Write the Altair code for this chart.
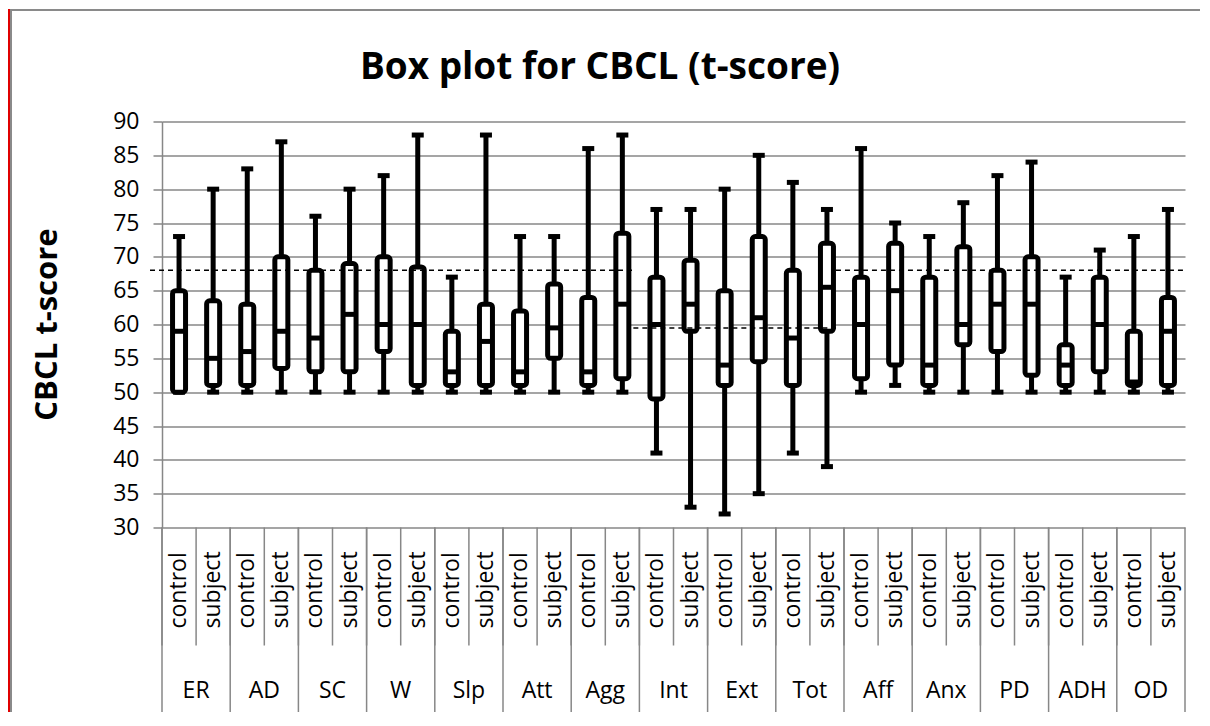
import altair as alt
import pandas as pd

scales = ["ER", "AD", "SC", "W", "Slp", "Att", "Agg", "Int", "Ext", "Tot", "Aff", "Anx", "PD", "ADH", "OD"]
groups = ["control", "subject"]

# order: ER-control, ER-subject, AD-control, ...
mins = [50, 50, 50, 50, 50, 50, 50, 50, 50, 50, 50, 50, 50, 50, 41, 33, 32, 35, 41, 39, 50, 51, 50, 50, 50, 50, 50, 50, 50, 50]
q1s = [50, 51, 51, 53.5, 53, 53, 56, 51, 51, 51, 51, 55, 51, 52, 49, 59, 51, 54.5, 51, 59, 52, 54, 51, 57, 56, 52.5, 51, 53, 51, 51]
meds = [59, 55, 56, 59, 58, 61.5, 60, 60, 53, 57.5, 53, 59.5, 53, 63, 60, 63, 54, 61, 58, 65.5, 60, 65, 54, 60, 63, 63, 54, 60, 51.5, 59]
q3s = [65, 63.5, 63, 70, 68, 69, 70, 68.5, 59, 63, 62, 66, 64, 73.5, 67, 69.5, 65, 73, 68, 72, 67, 72, 67, 71.5, 68, 70, 57, 67, 59, 64]
maxs = [73, 80, 83, 87, 76, 80, 82, 88, 67, 88, 73, 73, 86, 88, 77, 77, 80, 85, 81, 77, 86, 75, 73, 78, 82, 84, 67, 71, 73, 77]

ref_hi = 68
ref_lo = 59.5
y_ticks = list(range(30, 95, 5))

keys = [f"{s}|{g}" for s in scales for g in groups]
df = pd.DataFrame({
    "key": keys,
    "scale": [s for s in scales for g in groups],
    "group": [g for s in scales for g in groups],
    "min": mins, "q1": q1s, "med": meds, "q3": q3s, "max": maxs,
})

W, H = 1023, 406
band = W / len(keys)
GRID = "#878787"
FONT = "Open Sans"
LW = 5

xenc = alt.X("key:N", sort=keys, scale=alt.Scale(paddingInner=0, paddingOuter=0), axis=None)
yscale = alt.Scale(domain=[30, 90], nice=False, zero=False)
yaxis = alt.Axis(values=y_ticks, title=None, grid=True, gridColor=GRID, gridWidth=1.5,
                 domainColor=GRID, domainWidth=1.5, tickColor=GRID, tickWidth=1.5, tickSize=9,
                 labelFontSize=23, labelFont=FONT, labelColor="black", labelPadding=14)

def Y(field):
    return alt.Y(f"{field}:Q", scale=yscale, axis=yaxis)

def XB(pos):
    return alt.X("key:N", sort=keys, bandPosition=pos,
                 scale=alt.Scale(paddingInner=0, paddingOuter=0), axis=None)

base = alt.Chart(df)
whisk = base.mark_rule(color="black", strokeWidth=LW).encode(x=xenc, y=Y("min"), y2="max:Q")
cap_lo = base.mark_tick(color="black", thickness=LW, size=12, opacity=1).encode(x=xenc, y=Y("min"))
cap_hi = base.mark_tick(color="black", thickness=LW, size=12, opacity=1).encode(x=xenc, y=Y("max"))
box = base.mark_bar(size=13, fill="white", stroke="black", strokeWidth=LW, cornerRadius=3).encode(
    x=xenc, y=Y("q1"), y2="q3:Q")
med = base.mark_tick(color="black", thickness=LW, size=14, opacity=1).encode(x=xenc, y=Y("med"))

# reference dashed lines
ref_df = pd.DataFrame({
    "y": [ref_hi, ref_lo, ref_hi],
    "x0": [-12, 13.5 * band + 11, 19.5 * band + 9],
    "x1": [13.5 * band + 11, 19.5 * band + 9, W],
})
refs = alt.Chart(ref_df).mark_rule(color="black", strokeWidth=1.5, strokeDash=[5, 4]).encode(
    y=Y("y"), x=alt.X("x0:Q", scale=None), x2="x1:Q")

# category axis: separators and labels
sep_small = alt.Chart(df).mark_rule(color=GRID, strokeWidth=1.5).encode(
    x=XB(0), y=alt.value(H), y2=alt.value(H + 118))
gdf = df[df["group"] == "control"]
sep_big = alt.Chart(gdf).mark_rule(color=GRID, strokeWidth=1.5).encode(
    x=XB(0), y=alt.value(H), y2=alt.value(H + 200))
last_df = df.tail(1)
sep_end = alt.Chart(last_df).mark_rule(color=GRID, strokeWidth=1.5).encode(
    x=XB(1), y=alt.value(H), y2=alt.value(H + 200))

sub_lbl = alt.Chart(df).mark_text(angle=270, align="left", baseline="middle", fontSize=23,
                                  font=FONT, color="black").encode(
    x=xenc, y=alt.value(H + 101), text="group:N")
sdf = df[df["group"] == "subject"]
grp_lbl = alt.Chart(sdf).mark_text(align="center", baseline="middle", fontSize=23,
                                   font=FONT, color="black").encode(
    x=XB(0), y=alt.value(H + 163), text="scale:N")

one = pd.DataFrame({"a": [0]})
title = alt.Chart(one).mark_text(text="Box plot for CBCL (t-score)", fontSize=37, fontWeight="bold",
                                 font=FONT, align="center", baseline="middle", color="black").encode(
    x=alt.value(438), y=alt.value(-54))
ytitle = alt.Chart(one).mark_text(text="CBCL t-score", fontSize=31, fontWeight="bold", angle=270,
                                  font=FONT, align="center", baseline="middle", color="black").encode(
    x=alt.value(-114), y=alt.value(H / 2))

# frame decorations (top border drawn as a thin filled rect)
frame_top = alt.Chart(one).mark_rect(color="#8a8a8a").encode(
    x=alt.value(-152), x2=alt.value(W + 40), y=alt.value(-112.5), y2=alt.value(-110.5))
frame_left = alt.Chart(one).mark_rect(color="#8a8a8a").encode(
    x=alt.value(-152), x2=alt.value(-150), y=alt.value(-112.5), y2=alt.value(H + 200))
red_left = alt.Chart(one).mark_rect(color="#e00000").encode(
    x=alt.value(-155), x2=alt.value(-152), y=alt.value(-112.5), y2=alt.value(H + 200))

chart = alt.layer(
    whisk, cap_lo, cap_hi, box, med, refs,
    sep_small, sep_big, sep_end, sub_lbl, grp_lbl,
    title, ytitle, frame_top, frame_left, red_left,
).properties(
    width=W, height=H,
    padding={"left": 154, "top": 113.5, "right": 15, "bottom": 184.5},
    autosize=alt.AutoSizeParams(type="none"),
    background="white",
).configure_view(stroke=None)

chart.save("out.html", embed_options={"renderer": "svg", "actions": False})
